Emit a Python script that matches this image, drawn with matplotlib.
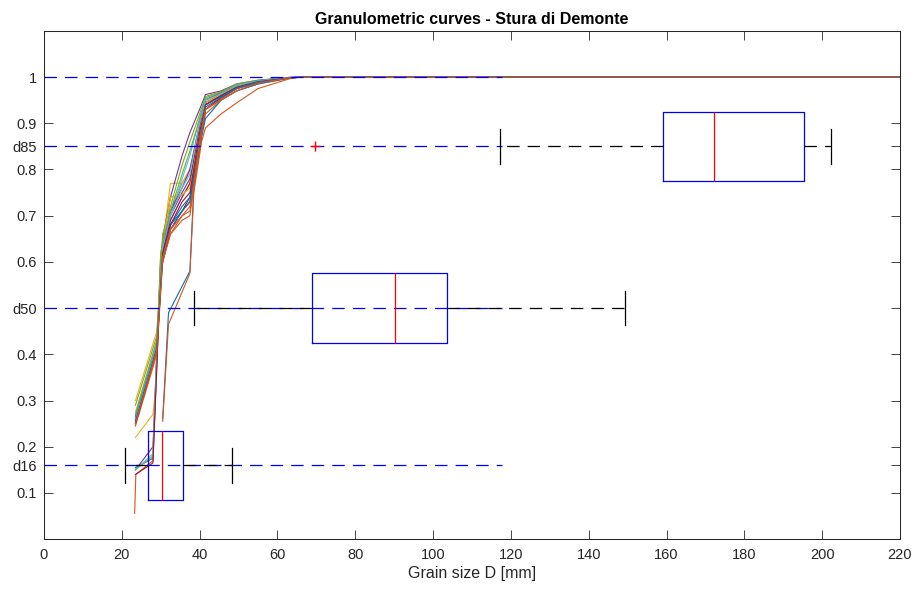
import matplotlib.pyplot as plt

plt.rcParams['font.family'] = ['Liberation Sans', 'DejaVu Sans']
plt.rcParams['lines.scale_dashes'] = False

# matlab default colour order
colours = ['#0072BD', '#D95319', '#EDB120', '#7E2F8E', '#77AC30', '#4DBEEE', '#A2142F']

# sieve grids (grain size D, mm)
grid_a = [23.5, 29.0, 30.5, 32.5, 35.5, 37.5, 40.0, 41.5, 45.5, 49.5, 55.0, 63.0, 66.0, 220.0]
grid_b = [23.5, 28.0, 30.0, 32.5, 35.5, 37.5, 40.0, 41.5, 45.5, 49.5, 55.0, 63.0, 66.0, 220.0]
grid_b_low = [23.3, 23.6, 28.0, 30.0, 32.5, 35.5, 37.5, 40.0, 41.5, 45.5, 49.5, 55.0, 63.0, 66.0, 220.0]
grid_b_yel = [23.5, 28.0, 28.6, 30.0, 32.5, 35.5, 37.5, 40.0, 41.5, 45.5, 49.5, 55.0, 63.0, 66.0, 220.0]
grid_c = [30.5, 32.0, 37.5, 38.5, 40.5, 41.5, 45.5, 49.5, 55.0, 63.0, 66.0, 220.0]

# cumulative passing fraction of each sample
curves = [
    (grid_b, [0.155, 0.175, 0.60, 0.68, 0.71, 0.73, 0.86, 0.93, 0.955, 0.975, 0.988, 0.998, 1, 1]),
    (grid_b_low, [0.056, 0.14, 0.17, 0.59, 0.66, 0.70, 0.72, 0.85, 0.92, 0.95, 0.97, 0.985, 0.997, 1, 1]),
    (grid_b_yel, [0.22, 0.27, 0.32, 0.62, 0.74, 0.745, 0.76, 0.87, 0.94, 0.96, 0.975, 0.99, 0.998, 1, 1]),
    (grid_b, [0.15, 0.20, 0.61, 0.70, 0.75, 0.78, 0.88, 0.94, 0.96, 0.978, 0.99, 0.998, 1, 1]),
    (grid_b, [0.15, 0.18, 0.62, 0.71, 0.77, 0.80, 0.88, 0.945, 0.962, 0.98, 0.99, 0.998, 1, 1]),
    (grid_b, [0.15, 0.185, 0.60, 0.69, 0.74, 0.77, 0.87, 0.94, 0.958, 0.977, 0.99, 0.998, 1, 1]),
    (grid_b, [0.14, 0.165, 0.58, 0.67, 0.71, 0.74, 0.86, 0.93, 0.955, 0.975, 0.988, 0.998, 1, 1]),
    (grid_c, [0.26, 0.49, 0.58, 0.76, 0.87, 0.91, 0.95, 0.97, 0.985, 0.998, 1, 1]),
    (grid_c, [0.255, 0.465, 0.575, 0.75, 0.86, 0.89, 0.92, 0.944, 0.975, 0.996, 1, 1]),
    (grid_a, [0.30, 0.45, 0.64, 0.77, 0.77, 0.80, 0.89, 0.95, 0.965, 0.982, 0.99, 0.998, 1, 1]),
    (grid_a, [0.265, 0.42, 0.65, 0.74, 0.83, 0.88, 0.93, 0.962, 0.97, 0.985, 0.993, 0.999, 1, 1]),
    (grid_a, [0.29, 0.44, 0.66, 0.72, 0.81, 0.86, 0.92, 0.958, 0.968, 0.985, 0.993, 0.999, 1, 1]),
    (grid_a, [0.255, 0.42, 0.63, 0.70, 0.78, 0.83, 0.91, 0.952, 0.965, 0.982, 0.992, 0.999, 1, 1]),
    (grid_a, [0.25, 0.41, 0.62, 0.69, 0.74, 0.77, 0.89, 0.945, 0.962, 0.98, 0.99, 0.998, 1, 1]),
    (grid_a, [0.26, 0.42, 0.62, 0.68, 0.72, 0.74, 0.87, 0.94, 0.958, 0.978, 0.99, 0.998, 1, 1]),
    (grid_a, [0.245, 0.40, 0.60, 0.66, 0.69, 0.70, 0.85, 0.93, 0.952, 0.975, 0.988, 0.998, 1, 1]),
    (grid_a, [0.275, 0.43, 0.64, 0.74, 0.745, 0.76, 0.88, 0.945, 0.962, 0.98, 0.99, 0.998, 1, 1]),
    (grid_a, [0.26, 0.42, 0.63, 0.71, 0.76, 0.80, 0.90, 0.95, 0.966, 0.983, 0.992, 0.999, 1, 1]),
    (grid_a, [0.27, 0.43, 0.645, 0.71, 0.79, 0.84, 0.91, 0.955, 0.967, 0.984, 0.992, 0.999, 1, 1]),
    (grid_a, [0.26, 0.42, 0.63, 0.70, 0.76, 0.79, 0.90, 0.95, 0.964, 0.982, 0.991, 0.999, 1, 1]),
    (grid_a, [0.25, 0.41, 0.62, 0.68, 0.73, 0.75, 0.88, 0.94, 0.96, 0.978, 0.99, 0.998, 1, 1]),
    (grid_a, [0.255, 0.415, 0.61, 0.67, 0.71, 0.73, 0.86, 0.935, 0.956, 0.976, 0.989, 0.998, 1, 1]),
    (grid_a, [0.25, 0.41, 0.61, 0.67, 0.70, 0.71, 0.86, 0.93, 0.95, 0.97, 0.987, 0.998, 1, 1]),
]

# reference levels and boxplot summaries of d16 / d50 / d85
levels = [1.0, 0.85, 0.5, 0.16]
level_end = 117.6
box_pos = [0.16, 0.5, 0.85]
box_low = [20.7, 38.6, 117.2]
box_q1 = [26.8, 68.8, 159.2]
box_med = [30.3, 90.3, 172.2]
box_q3 = [35.8, 103.6, 195.2]
box_high = [48.3, 149.2, 202.2]
box_fliers = [[], [], [69.6]]

ytick_vals = [0.1, 0.16, 0.2, 0.3, 0.4, 0.5, 0.6, 0.7, 0.8, 0.85, 0.9, 1.0]
ytick_labels = ['0.1', 'd16', '0.2', '0.3', '0.4', 'd50', '0.6', '0.7', '0.8', 'd85', '0.9', '1']

fig = plt.figure(figsize=(9.18, 5.98), dpi=100)
ax = fig.add_axes([44 / 918, 1 - 539.2 / 598, 856 / 918, 508.4 / 598])

for i, (d, p) in enumerate(curves):
    ax.plot(d, p, color=colours[i % 7], lw=0.8)

dash = (0, (9, 5.8))
for lev in levels:
    ax.plot([0, level_end], [lev, lev], color='#0000FF', lw=0.9, linestyle=dash)

stats = []
for k in range(3):
    stats.append(dict(whislo=box_low[k], q1=box_q1[k], med=box_med[k],
                      q3=box_q3[k], whishi=box_high[k], fliers=box_fliers[k]))
ax.bxp(stats, positions=box_pos, widths=0.15, capwidths=0.075,
       orientation='horizontal', manage_ticks=False,
       boxprops=dict(color='#0000FF', lw=0.9),
       medianprops=dict(color='#FF0000', lw=0.9),
       whiskerprops=dict(color='black', lw=0.9, linestyle=dash),
       capprops=dict(color='black', lw=0.9),
       flierprops=dict(marker='+', markeredgecolor='#FF0000', markersize=7, lw=0))

ax.set_xlim(0, 220)
ax.set_ylim(0, 1.1)
ax.set_xticks(range(0, 221, 20))
ax.set_yticks(ytick_vals)
ax.set_yticklabels(ytick_labels)
ax.tick_params(direction='in', length=6.2, width=0.6, top=True, right=True,
               labelsize=10.5, colors='#262626')
ax.tick_params(axis='x', pad=6)
ax.tick_params(axis='y', pad=5)
for s in ax.spines.values():
    s.set_linewidth(0.75)
    s.set_color('#262626')

ax.set_xlabel('Grain size D [mm]', fontsize=11.5, color='#262626', labelpad=3)
ax.set_title('Granulometric curves - Stura di Demonte', fontsize=11.5,
             fontweight='bold', pad=5)

fig.savefig('out.png', dpi=100)
